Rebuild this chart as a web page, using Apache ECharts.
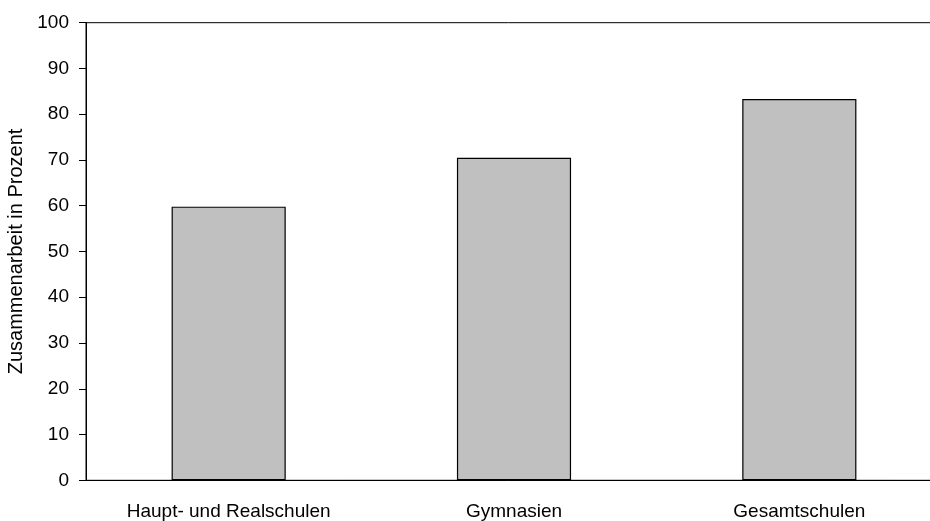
<!DOCTYPE html>
<html><head><meta charset="utf-8">
<script src="https://cdn.jsdelivr.net/npm/echarts@6/dist/echarts.min.js"></script>
<style>html,body{margin:0;padding:0;background:#fff}#c{width:930px;height:521px}</style>
</head><body><div id="c"></div>
<script>
const categories = ["Haupt- und Realschulen", "Gymnasien", "Gesamtschulen"];
const values = [59.8, 70.5, 83.3];
const yTicks = [0, 10, 20, 30, 40, 50, 60, 70, 80, 90, 100];
const yName = "Zusammenarbeit in Prozent";

const FONT = 'Liberation Sans, Arial, sans-serif';
const chart = echarts.init(document.getElementById('c'), null, {renderer: 'canvas'});
chart.setOption({
  animation: false,
  backgroundColor: '#fff',
  textStyle: {fontFamily: FONT},
  grid: {left: 86, width: 856, top: 22.7, height: 457.6, show: true, borderColor: '#000', borderWidth: 1,
         containLabel: false, outerBoundsMode: 'none'},
  xAxis: {
    type: 'category', data: categories,
    axisLine: {lineStyle: {color: '#000', width: 1}},
    axisTick: {show: false},
    axisLabel: {color: '#000', fontSize: 19, margin: 22, fontFamily: FONT}
  },
  yAxis: {
    type: 'value', min: yTicks[0], max: yTicks[yTicks.length - 1], interval: 10,
    name: yName, nameLocation: 'middle', nameGap: 56, nameRotate: 90,
    nameTextStyle: {color: '#000', fontSize: 20, fontFamily: FONT},
    axisLine: {show: true, lineStyle: {color: '#000', width: 1}},
    axisTick: {show: true, length: 7, lineStyle: {color: '#000'}},
    splitLine: {show: false},
    axisLabel: {color: '#000', fontSize: 19, margin: 17, fontFamily: FONT}
  },
  series: [{
    type: 'bar', data: values, barCategoryGap: '60%',
    itemStyle: {color: '#c0c0c0', borderColor: '#000', borderWidth: 1.2}
  }]
});
</script></body></html>
